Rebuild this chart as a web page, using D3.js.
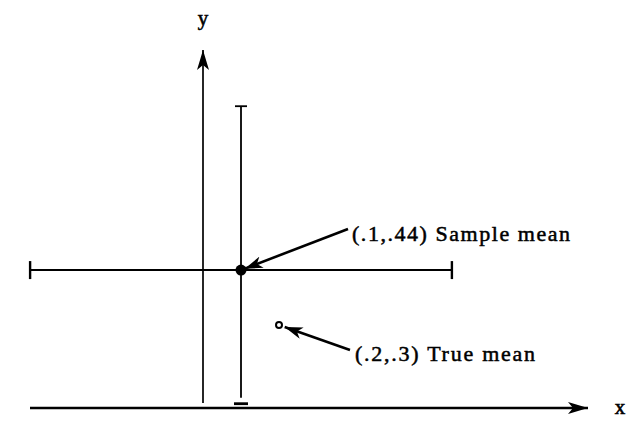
<!DOCTYPE html>
<html>
<head>
<meta charset="utf-8">
<script src="https://cdn.jsdelivr.net/npm/d3@7"></script>
<style>
  html, body { margin: 0; padding: 0; background: #fff; }
  svg { display: block; }
  text { font-family: "Liberation Serif", "DejaVu Serif", serif; fill: #000; }
</style>
</head>
<body>
<svg id="chart" width="628" height="447"></svg>
<script>
// Point estimates
const pointNames = ["Sample mean", "True mean"];
const pointX = [0.1, 0.2];
const pointY = [0.44, 0.3];
const pointLabels = ["(.1,.44) Sample mean", "(.2,.3) True mean"];

// Error bar extents around the sample mean
const xInterval = [-0.455, 0.655];
const yInterval = [0.10, 0.857];

// Axis titles
const axisTitles = ["x", "y"];

const svg = d3.select("#chart");

const x = d3.scaleLinear().domain([0, 1]).range([203, 583]);
const y = d3.scaleLinear().domain([0, 1]).range([443, 50]);

const ink = "#000";

// Arrowhead markers
const defs = svg.append("defs");
defs.append("marker")
  .attr("id", "axisHead").attr("viewBox", "0 0 20 12")
  .attr("refX", 20).attr("refY", 6)
  .attr("markerWidth", 20).attr("markerHeight", 12)
  .attr("markerUnits", "userSpaceOnUse").attr("orient", "auto")
  .append("path").attr("d", "M0,0 L20,6 L0,12 L5,6 Z").attr("fill", ink);
defs.append("marker")
  .attr("id", "pointer").attr("viewBox", "0 0 18 12")
  .attr("refX", 18).attr("refY", 6)
  .attr("markerWidth", 18).attr("markerHeight", 12)
  .attr("markerUnits", "userSpaceOnUse").attr("orient", "auto")
  .append("path").attr("d", "M0,0 L18,6 L0,12 L5,6 Z").attr("fill", ink);

// Axes
const axisY = 408;
svg.append("line")
  .attr("x1", 30).attr("y1", axisY).attr("x2", 588).attr("y2", axisY)
  .attr("stroke", ink).attr("stroke-width", 2.4)
  .attr("marker-end", "url(#axisHead)");
svg.append("line")
  .attr("x1", x(0)).attr("y1", 403).attr("x2", x(0)).attr("y2", 50)
  .attr("stroke", ink).attr("stroke-width", 1.7)
  .attr("marker-end", "url(#axisHead)");

svg.append("text").attr("x", 620).attr("y", 414)
  .attr("text-anchor", "middle").attr("font-size", 21)
  .attr("stroke", ink).attr("stroke-width", 0.6).text(axisTitles[0]);
svg.append("text").attr("x", 203).attr("y", 25)
  .attr("text-anchor", "middle").attr("font-size", 21)
  .attr("stroke", ink).attr("stroke-width", 0.6).text(axisTitles[1]);

// Horizontal error bar
const cx = x(pointX[0]), cy = y(pointY[0]);
const hb = svg.append("g").attr("stroke", ink);
hb.append("line")
  .attr("x1", x(xInterval[0])).attr("x2", x(xInterval[1]))
  .attr("y1", cy).attr("y2", cy).attr("stroke-width", 2);
xInterval.forEach(v => {
  hb.append("line")
    .attr("x1", x(v)).attr("x2", x(v))
    .attr("y1", cy - 9).attr("y2", cy + 9).attr("stroke-width", 2.4);
});

// Vertical error bar
const vb = svg.append("g").attr("stroke", ink);
vb.append("line")
  .attr("x1", cx).attr("x2", cx)
  .attr("y1", y(yInterval[1])).attr("y2", y(yInterval[0]) - 6)
  .attr("stroke-width", 1.8);
vb.append("line")
  .attr("x1", cx - 6).attr("x2", cx + 6)
  .attr("y1", y(yInterval[1])).attr("y2", y(yInterval[1]))
  .attr("stroke-width", 1.8);
vb.append("line")
  .attr("x1", cx - 7).attr("x2", cx + 7)
  .attr("y1", y(yInterval[0])).attr("y2", y(yInterval[0]))
  .attr("stroke-width", 2.8);

// Points
svg.append("circle")
  .attr("cx", x(pointX[0])).attr("cy", y(pointY[0])).attr("r", 5.5)
  .attr("fill", ink);
svg.append("circle")
  .attr("cx", x(pointX[1])).attr("cy", y(pointY[1])).attr("r", 3)
  .attr("fill", "#fff").attr("stroke", ink).attr("stroke-width", 2);

// Labels with pointer arrows
const labelPos = [[352, 241, 218], [355, 361, 180]];
const pointerStart = [[348, 229], [350, 350]];
const pointerGap = [4, 6];

pointLabels.forEach((label, i) => {
  const px = x(pointX[i]), py = y(pointY[i]);
  const [sx, sy] = pointerStart[i];
  const ang = Math.atan2(sy - py, sx - px);
  svg.append("line")
    .attr("x1", sx).attr("y1", sy)
    .attr("x2", px + Math.cos(ang) * pointerGap[i])
    .attr("y2", py + Math.sin(ang) * pointerGap[i])
    .attr("stroke", ink).attr("stroke-width", 2.6)
    .attr("marker-end", "url(#pointer)");
  svg.append("text")
    .attr("x", labelPos[i][0]).attr("y", labelPos[i][1])
    .attr("font-size", 22)
    .attr("textLength", labelPos[i][2])
    .attr("lengthAdjust", "spacing")
    .attr("stroke", ink).attr("stroke-width", 0.5)
    .text(label);
});
</script>
</body>
</html>
